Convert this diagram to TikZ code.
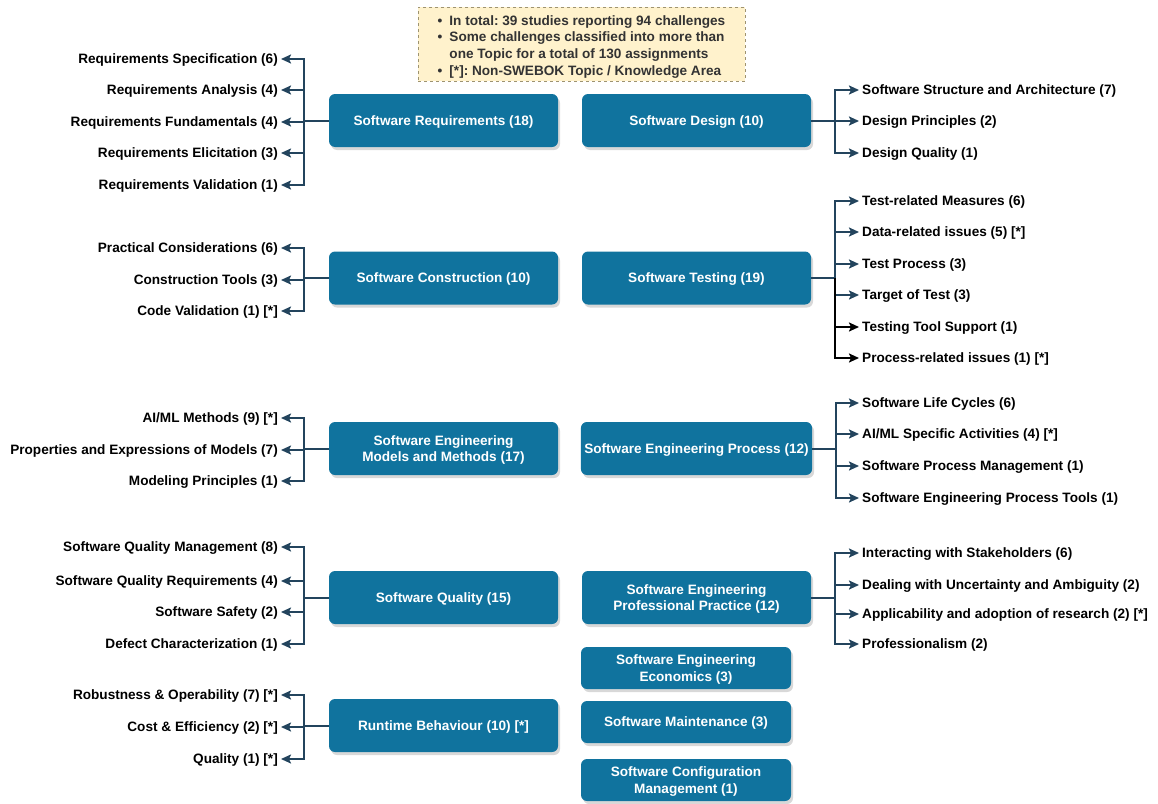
\documentclass[tikz,border=0pt]{standalone}
\usepackage{fontspec}
\setmainfont{Liberation Sans}
\usepackage{tikz}
\usetikzlibrary{arrows.meta,shadows}

\definecolor{kablue}{HTML}{10739E}
\definecolor{linkblue}{HTML}{23445D}
\definecolor{notefill}{HTML}{FFF2CC}
\definecolor{notedraw}{HTML}{9E9370}
\definecolor{notetext}{HTML}{333333}

\newcommand{\kafont}{\bfseries\fontsize{13.6}{16.5}\selectfont}
\frenchspacing

\tikzset{
  area/.style={rectangle, rounded corners=6pt, fill=kablue, text=white, align=center,
    minimum width=229pt, minimum height=53pt, font=\kafont, text depth=-2pt,
    drop shadow={shadow xshift=2pt, shadow yshift=-3pt, fill=black!30}},
  smallarea/.style={area, minimum width=210pt, minimum height=42pt},
  leaf/.style={inner sep=3pt, text=black, font=\kafont, text depth=0pt, yshift=-1pt},
  lnk/.style={draw=linkblue, line width=2pt, -{Stealth[length=10pt, width=9pt, inset=2pt]}},
  blk/.style={lnk, draw=black},
}

\begin{document}
\begin{tikzpicture}[x=1pt,y=-1pt]
  \useasboundingbox (0,0) rectangle (1158,803);

  % note
  \node[draw=notedraw, dashed, fill=notefill, text=notetext, font=\bfseries\fontsize{13.6}{16.7}\selectfont, minimum width=327pt, minimum height=74pt, inner sep=0pt] (note) at (581.5,44)
    {\raisebox{-3pt}[\height][\depth]{\begin{tabular}{@{}l@{\hspace{7pt}}l@{}}
      \textbullet & In total: 39 studies reporting 94 challenges\\
      \textbullet & Some challenges classified into more than\\
                  & one Topic for a total of 130 assignments\\
      \textbullet & [*]: Non-SWEBOK Topic / Knowledge Area
    \end{tabular}}};

  % knowledge areas
  \node[area] (req) at (443.5,120.5) {Software Requirements (18)};
  \node[area] (des) at (696.5,120.5) {Software Design (10)};
  \node[area] (con) at (443.5,278) {Software Construction (10)};
  \node[area] (tst) at (696.5,278) {Software Testing (19)};
  \node[area] (mod) at (443.5,448.5) {Software Engineering\\Models and Methods (17)};
  \node[area] (pro) at (696.5,448.5) {Software Engineering Process (12)};
  \node[area] (qua) at (443.5,597.5) {Software Quality (15)};
  \node[area] (prc) at (696.5,597.5) {Software Engineering\\Professional Practice (12)};
  \node[area] (run) at (443.5,725.5) {Runtime Behaviour (10) [*]};
  \node[smallarea] (eco) at (686,668) {Software Engineering\\Economics (3)};
  \node[smallarea] (mnt) at (686,722) {Software Maintenance (3)};
  \node[smallarea] (scm) at (686,780) {Software Configuration\\Management (1)};

  % left topics
  \node[leaf, anchor=east] (rs) at (281,58) {Requirements Specification (6)};
  \node[leaf, anchor=east] (ra) at (281,89) {Requirements Analysis (4)};
  \node[leaf, anchor=east] (rf) at (281,121) {Requirements Fundamentals (4)};
  \node[leaf, anchor=east] (re) at (281,152) {Requirements Elicitation (3)};
  \node[leaf, anchor=east] (rv) at (281,184) {Requirements Validation (1)};
  \node[leaf, anchor=east] (cp) at (281,247) {Practical Considerations (6)};
  \node[leaf, anchor=east] (ct) at (281,279) {Construction Tools (3)};
  \node[leaf, anchor=east] (cv) at (281,310) {Code Validation (1) [*]};
  \node[leaf, anchor=east] (mm) at (281,417) {AI/ML Methods (9) [*]};
  \node[leaf, anchor=east] (mp) at (281,449) {Properties and Expressions of Models (7)};
  \node[leaf, anchor=east] (mr) at (281,480) {Modeling Principles (1)};
  \node[leaf, anchor=east] (qm) at (281,546) {Software Quality Management (8)};
  \node[leaf, anchor=east] (qr) at (281,580) {Software Quality Requirements (4)};
  \node[leaf, anchor=east] (qs) at (281,611) {Software Safety (2)};
  \node[leaf, anchor=east] (qd) at (281,643) {Defect Characterization (1)};
  \node[leaf, anchor=east] (br) at (281,694) {Robustness \& Operability (7) [*]};
  \node[leaf, anchor=east] (bc) at (281,726) {Cost \& Efficiency (2) [*]};
  \node[leaf, anchor=east] (bq) at (281,758) {Quality (1) [*]};

  % right topics
  \node[leaf, anchor=west] (ds) at (859,89) {Software Structure and Architecture (7)};
  \node[leaf, anchor=west] (dp) at (859,120) {Design Principles (2)};
  \node[leaf, anchor=west] (dq) at (859,152) {Design Quality (1)};
  \node[leaf, anchor=west] (tm) at (859,200) {Test-related Measures (6)};
  \node[leaf, anchor=west] (td) at (859,231) {Data-related issues (5) [*]};
  \node[leaf, anchor=west] (tp) at (859,263) {Test Process (3)};
  \node[leaf, anchor=west] (tt) at (859,294) {Target of Test (3)};
  \node[leaf, anchor=west] (ts) at (859,326) {Testing Tool Support (1)};
  \node[leaf, anchor=west] (ti) at (859,357) {Process-related issues (1) [*]};
  \node[leaf, anchor=west] (pl) at (859,402) {Software Life Cycles (6)};
  \node[leaf, anchor=west] (pa) at (859,433) {AI/ML Specific Activities (4) [*]};
  \node[leaf, anchor=west] (pm) at (859,465) {Software Process Management (1)};
  \node[leaf, anchor=west] (pt) at (859,497) {Software Engineering Process Tools (1)};
  \node[leaf, anchor=west] (xi) at (859,552) {Interacting with Stakeholders (6)};
  \node[leaf, anchor=west] (xd) at (859,584) {Dealing with Uncertainty and Ambiguity (2)};
  \node[leaf, anchor=west] (xa) at (859,613) {Applicability and adoption of research (2) [*]};
  \node[leaf, anchor=west] (xp) at (859,643) {Professionalism (2)};

  % links to the left
  \draw[lnk] (req.west) -- ++(-25,0) |- (rs.east);
  \draw[lnk] (req.west) -- ++(-25,0) |- (ra.east);
  \draw[lnk] (req.west) -- ++(-25,0) |- (rf.east);
  \draw[lnk] (req.west) -- ++(-25,0) |- (re.east);
  \draw[lnk] (req.west) -- ++(-25,0) |- (rv.east);
  \draw[lnk] (con.west) -- ++(-25,0) |- (cp.east);
  \draw[lnk] (con.west) -- ++(-25,0) |- (ct.east);
  \draw[lnk] (con.west) -- ++(-25,0) |- (cv.east);
  \draw[lnk] (mod.west) -- ++(-25,0) |- (mm.east);
  \draw[lnk] (mod.west) -- ++(-25,0) |- (mp.east);
  \draw[lnk] (mod.west) -- ++(-25,0) |- (mr.east);
  \draw[lnk] (qua.west) -- ++(-25,0) |- (qm.east);
  \draw[lnk] (qua.west) -- ++(-25,0) |- (qr.east);
  \draw[lnk] (qua.west) -- ++(-25,0) |- (qs.east);
  \draw[lnk] (qua.west) -- ++(-25,0) |- (qd.east);
  \draw[lnk] (run.west) -- ++(-25,0) |- (br.east);
  \draw[lnk] (run.west) -- ++(-25,0) |- (bc.east);
  \draw[lnk] (run.west) -- ++(-25,0) |- (bq.east);

  % links to the right
  \draw[lnk] (des.east) -- ++(24,0) |- (ds.west);
  \draw[lnk] (des.east) -- ++(24,0) |- (dp.west);
  \draw[lnk] (des.east) -- ++(24,0) |- (dq.west);
  \draw[lnk] (tst.east) -- ++(24,0) |- (tm.west);
  \draw[lnk] (tst.east) -- ++(24,0) |- (td.west);
  \draw[lnk] (tst.east) -- ++(24,0) |- (tp.west);
  \draw[lnk] (tst.east) -- ++(24,0) |- (tt.west);
  \draw[blk] (tst.east) ++(24,0) |- (ts.west);
  \draw[blk] (tst.east) ++(24,0) |- (ti.west);
  \draw[lnk] (pro.east) -- ++(24,0) |- (pl.west);
  \draw[lnk] (pro.east) -- ++(24,0) |- (pa.west);
  \draw[lnk] (pro.east) -- ++(24,0) |- (pm.west);
  \draw[lnk] (pro.east) -- ++(24,0) |- (pt.west);
  \draw[lnk] (prc.east) -- ++(24,0) |- (xi.west);
  \draw[lnk] (prc.east) -- ++(24,0) |- (xd.west);
  \draw[lnk] (prc.east) -- ++(24,0) |- (xa.west);
  \draw[lnk] (prc.east) -- ++(24,0) |- (xp.west);
\end{tikzpicture}
\end{document}
